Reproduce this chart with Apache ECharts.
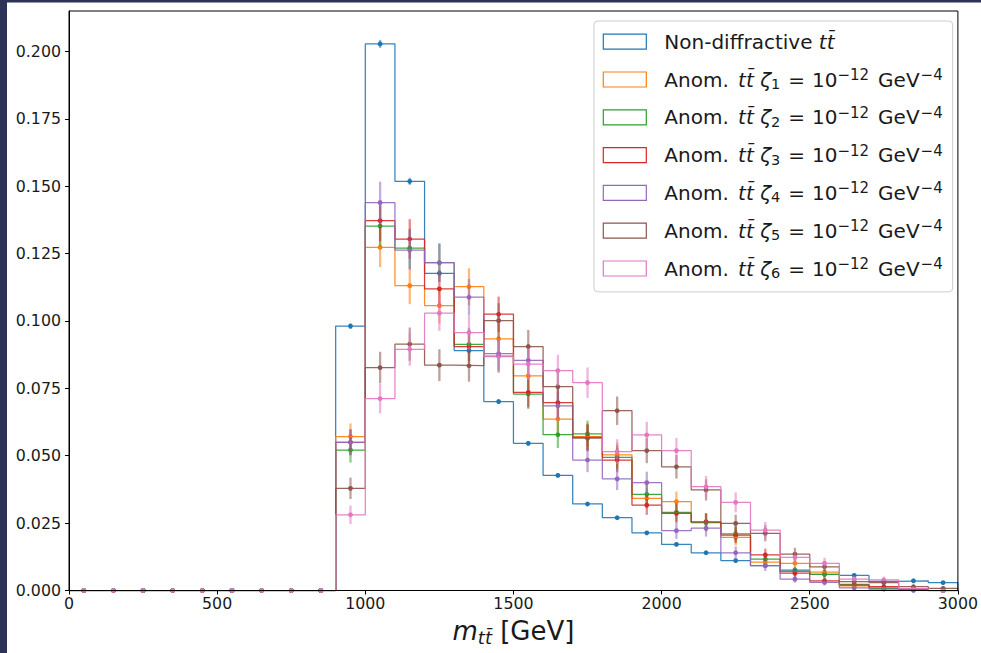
<!DOCTYPE html>
<html>
<head>
<meta charset="utf-8">
<script src="https://cdn.jsdelivr.net/npm/echarts@6/dist/echarts.min.js"></script>
<style>
html,body{margin:0;padding:0;background:#ffffff;}
#chart{width:981px;height:653px;}
</style>
</head>
<body>
<div id="chart"></div>
<script>
// ---- data ----
const binEdges = [0,100,200,300,400,500,600,700,800,900,1000,1100,1200,1300,1400,1500,1600,1700,1800,1900,2000,2100,2200,2300,2400,2500,2600,2700,2800,2900,3000];
const binCenters = [50,150,250,350,450,550,650,750,850,950,1050,1150,1250,1350,1450,1550,1650,1750,1850,1950,2050,2150,2250,2350,2450,2550,2650,2750,2850,2950];

const seriesNames = [
  'Non-diffractive tt',
  'Anom. zeta1',
  'Anom. zeta2',
  'Anom. zeta3',
  'Anom. zeta4',
  'Anom. zeta5',
  'Anom. zeta6'
];
const seriesColors = ['#1f77b4','#ff7f0e','#2ca02c','#d62728','#9467bd','#8c564b','#e377c2'];

const nonDiff = [0,0,0,0,0,0,0,0,0,0.0981,0.2028,0.1518,0.1177,0.0890,0.0701,0.0546,0.0427,0.0321,0.0270,0.0214,0.0171,0.0140,0.0111,0.0092,0.0076,0.0060,0.0056,0.0034,0.0036,0.0029];
const nonDiffErr = [0,0,0,0,0,0,0,0,0,0.00104,0.00150,0.00130,0.00114,0.00099,0.00088,0.00078,0.00069,0.00060,0.00055,0.00049,0.00044,0.00039,0.00035,0.00032,0.00029,0.00026,0.00025,0.00019,0.00020,0.00018];

const zeta1 = [0,0,0,0,0,0,0,0,0,0.0571,0.1273,0.1131,0.1057,0.1127,0.0934,0.0796,0.0636,0.0571,0.0503,0.0342,0.0330,0.0253,0.0197,0.0105,0.0101,0.0068,0.0017,0.0010,0.0005,0];
const zeta1Err = [0,0,0,0,0,0,0,0,0,0.00488,0.00728,0.00686,0.00664,0.00685,0.00624,0.00576,0.00515,0.00488,0.00458,0.00377,0.00371,0.00325,0.00287,0.00209,0.00205,0.00168,0.00084,0.00065,0.00046,0];

const zeta2 = [0,0,0,0,0,0,0,0,0,0.0521,0.1352,0.1270,0.1216,0.0913,0.0870,0.0729,0.0578,0.0581,0.0494,0.0357,0.0290,0.0252,0.0210,0.0116,0.0071,0.0060,0.0023,0.0008,0.0003,0];
const zeta2Err = [0,0,0,0,0,0,0,0,0,0.00466,0.00751,0.00727,0.00712,0.00617,0.00602,0.00551,0.00491,0.00492,0.00454,0.00386,0.00348,0.00324,0.00296,0.00220,0.00172,0.00158,0.00098,0.00058,0.00035,0];

const zeta3 = [0,0,0,0,0,0,0,0,0,0.0550,0.1372,0.1304,0.1119,0.0905,0.1025,0.0735,0.0697,0.0568,0.0484,0.0317,0.0286,0.0255,0.0205,0.0132,0.0064,0.0036,0.0020,0.0014,0.0005,0];
const zeta3Err = [0,0,0,0,0,0,0,0,0,0.00479,0.00756,0.00737,0.00683,0.00614,0.00654,0.00553,0.00539,0.00486,0.00449,0.00363,0.00345,0.00326,0.00292,0.00235,0.00163,0.00122,0.00091,0.00076,0.00046,0];

const zeta4 = [0,0,0,0,0,0,0,0,0,0.0550,0.1439,0.1263,0.1216,0.1088,0.0879,0.0854,0.0685,0.0484,0.0414,0.0400,0.0222,0.0231,0.0140,0.0092,0.0042,0.0030,0.0010,0.0005,0,0];
const zeta4Err = [0,0,0,0,0,0,0,0,0,0.00479,0.00774,0.00725,0.00712,0.00673,0.00605,0.00596,0.00534,0.00449,0.00415,0.00408,0.00304,0.00310,0.00241,0.00196,0.00132,0.00112,0.00065,0.00046,0,0];

const zeta5 = [0,0,0,0,0,0,0,0,0,0.0379,0.0827,0.0914,0.0836,0.0834,0.1001,0.0905,0.0756,0.0565,0.0667,0.0519,0.0459,0.0373,0.0249,0.0212,0.0135,0.0088,0.0033,0.0029,0.0014,0.0008];
const zeta5Err = [0,0,0,0,0,0,0,0,0,0.00397,0.00587,0.00617,0.00590,0.00590,0.00646,0.00614,0.00561,0.00485,0.00527,0.00465,0.00437,0.00394,0.00322,0.00297,0.00237,0.00191,0.00117,0.00110,0.00076,0.00058];

const zeta6 = [0,0,0,0,0,0,0,0,0,0.0281,0.0712,0.0895,0.1029,0.0957,0.0868,0.0840,0.0816,0.0771,0.0515,0.0577,0.0519,0.0385,0.0327,0.0224,0.0123,0.0101,0.0042,0.0039,0.0007,0];
const zeta6Err = [0,0,0,0,0,0,0,0,0,0.00342,0.00545,0.00611,0.00655,0.00632,0.00601,0.00592,0.00583,0.00567,0.00463,0.00490,0.00465,0.00400,0.00369,0.00306,0.00226,0.00205,0.00132,0.00127,0.00054,0];

const xTicks = [0,500,1000,1500,2000,2500,3000];
const yTicks = [0,0.025,0.05,0.075,0.1,0.125,0.15,0.175,0.2];

// ---- build ----
const allValues = [nonDiff, zeta1, zeta2, zeta3, zeta4, zeta5, zeta6];
const allErrors = [nonDiffErr, zeta1Err, zeta2Err, zeta3Err, zeta4Err, zeta5Err, zeta6Err];
const FONT = 'DejaVu Sans';
const TXT = '#1a1a1a';

function stepData(vals){
  const d = [];
  for (let i = 0; i < vals.length; i++) d.push([binEdges[i], vals[i]]);
  d.push([binEdges[vals.length], 0]);
  return d;
}

const series = [];
allValues.forEach((vals, k) => {
  const c = seriesColors[k];
  series.push({
    name: seriesNames[k],
    type: 'line',
    step: 'end',
    data: stepData(vals),
    showSymbol: false,
    symbol: 'none',
    animation: false,
    lineStyle: {color: c, width: 1.25, opacity: 0.9},
    itemStyle: {color: c},
    silent: true
  });
  series.push({
    name: seriesNames[k] + ' err',
    type: 'custom',
    animation: false,
    silent: true,
    data: binCenters.map((x, i) => [x, vals[i], allErrors[k][i]]),
    encode: {x: 0, y: 1},
    renderItem: function(params, api){
      const x = api.value(0), v = api.value(1), e = api.value(2);
      const p = api.coord([x, v]);
      const t = api.coord([x, v + e]);
      const b = api.coord([x, Math.max(0, v - e)]);
      return {
        type: 'group',
        children: [
          {type: 'line', shape: {x1: p[0], y1: t[1], x2: p[0], y2: b[1]},
           style: {stroke: c, lineWidth: 2.3, opacity: 0.55}},
          {type: 'circle', shape: {cx: p[0], cy: p[1], r: 2.4},
           style: {fill: c}}
        ]
      };
    }
  });
});

function legendLabel(name){
  const idx = seriesNames.indexOf(name);
  if (idx === 0) return '{n|Non-diffractive }{it|tt\u0304}';
  return '{n|Anom. }{itt|tt\u0304}{n| }{it|\u03b6}{sub|' + idx + '}{eq|=}{n|10}{sup|\u221212}{gev|GeV}{sup|\u22124}';
}

const LF = 20;
const chart = echarts.init(document.getElementById('chart'), null, {renderer: 'svg', width: 981, height: 653});
chart.setOption({
  backgroundColor: '#ffffff',
  animation: false,
  graphic: [
    {type: 'rect', left: 0, top: 0, shape: {x: 0, y: 0, width: 7, height: 653}, style: {fill: '#2c3357'}, z: 100},
    {type: 'rect', left: 0, top: 0, shape: {x: 0, y: 0, width: 981, height: 2.5}, style: {fill: '#2c3357'}, z: 100}
  ],
  grid: {left: 69, right: 18.3, top: 11, bottom: 62.5, show: true, borderColor: '#000', borderWidth: 1, backgroundColor: 'transparent', z: 10},
  xAxis: {
    type: 'value', min: 0, max: 3000, interval: 500, z: 10,
    axisLine: {show: true, onZero: false, lineStyle: {color: '#000', width: 1}},
    axisTick: {show: true, inside: false, length: 4, customValues: xTicks, lineStyle: {color: '#000', width: 1}},
    axisLabel: {show: true, margin: 5, customValues: xTicks, color: TXT, fontFamily: FONT, fontSize: 15.8,
      formatter: v => String(v)},
    splitLine: {show: false},
    name: '{it|m}{sub|tt\u0304}{n| [GeV]}',
    nameLocation: 'middle',
    nameGap: 22,
    nameTextStyle: {
      color: TXT, fontFamily: FONT, fontSize: 26, lineHeight: 30,
      rich: {
        it: {fontFamily: FONT, fontSize: 26, fontStyle: 'italic', lineHeight: 30, color: TXT},
        n: {fontFamily: FONT, fontSize: 26, lineHeight: 30, color: TXT},
        sub: {fontFamily: FONT, fontSize: 18, fontStyle: 'italic', lineHeight: 18, verticalAlign: 'bottom', color: TXT}
      }
    }
  },
  yAxis: {
    type: 'value', min: 0, max: 0.215, interval: 0.025, z: 10,
    axisLine: {show: true, onZero: false, lineStyle: {color: '#000', width: 1}},
    axisTick: {show: true, inside: false, length: 4, customValues: yTicks, lineStyle: {color: '#000', width: 1}},
    axisLabel: {show: true, margin: 8, customValues: yTicks, color: TXT, fontFamily: FONT, fontSize: 15.8,
      formatter: v => Number(v).toFixed(3)},
    splitLine: {show: false}
  },
  legend: {
    show: true,
    orient: 'vertical',
    left: 594,
    top: 21,
    padding: [8.7, 10, 11.4, 8.7],
    itemGap: 13.8,
    itemWidth: 43,
    itemHeight: 15,
    icon: 'rect',
    backgroundColor: 'rgba(255,255,255,0.85)',
    borderColor: '#cccccc',
    borderWidth: 1,
    borderRadius: 4,
    selectedMode: false,
    data: seriesNames.map((n, k) => ({
      name: n,
      icon: 'rect',
      itemStyle: {color: 'rgba(255,255,255,0)', borderColor: seriesColors[k], borderWidth: 1.2, opacity: 1}
    })),
    formatter: legendLabel,
    textStyle: {
      color: TXT, fontFamily: FONT, fontSize: LF, lineHeight: 24, padding: [0, 0, 0, 13],
      rich: {
        n: {fontFamily: FONT, fontSize: LF, lineHeight: 24, color: TXT},
        it: {fontFamily: FONT, fontSize: LF, fontStyle: 'italic', lineHeight: 24, color: TXT},
        itt: {fontFamily: FONT, fontSize: LF, fontStyle: 'italic', lineHeight: 24, color: TXT, padding: [0, 0, 0, 3]},
        eq: {fontFamily: FONT, fontSize: LF, lineHeight: 24, color: TXT, padding: [0, 7, 0, 8]},
        gev: {fontFamily: FONT, fontSize: LF, lineHeight: 24, color: TXT, padding: [0, 1, 0, 9]},
        sub: {fontFamily: FONT, fontSize: 14.5, lineHeight: 14, verticalAlign: 'bottom', color: TXT},
        sup: {fontFamily: FONT, fontSize: 15, lineHeight: 11, verticalAlign: 'top', color: TXT}
      }
    }
  },
  series: series
});
</script>
</body>
</html>
